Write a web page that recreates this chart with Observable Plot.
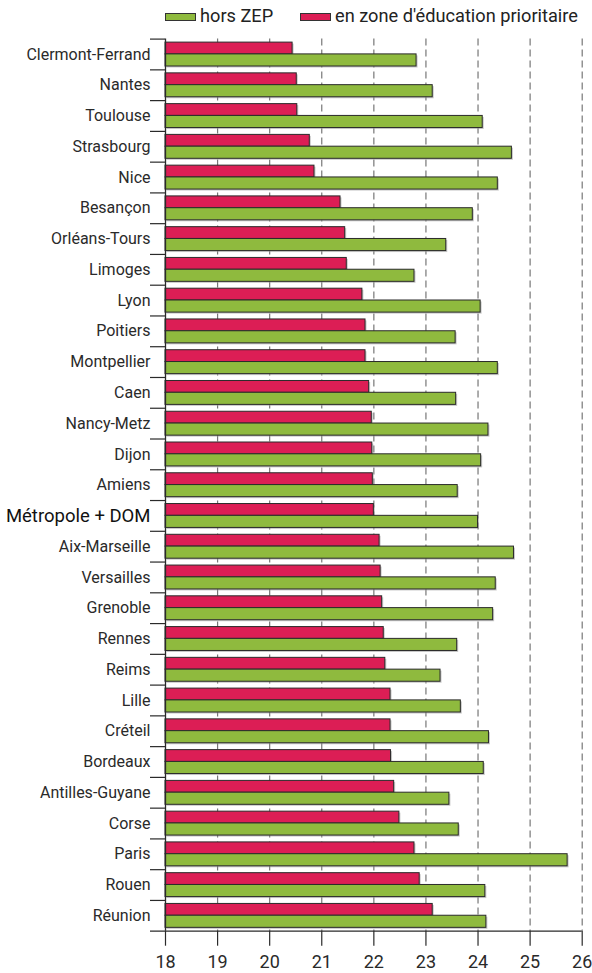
<!DOCTYPE html>
<html>
<head>
<meta charset="utf-8">
<script src="https://cdn.jsdelivr.net/npm/d3@7"></script>
<script src="https://cdn.jsdelivr.net/npm/@observablehq/plot@0.6"></script>
<style>
  html, body { margin: 0; padding: 0; background: #fff; }
  body { width: 592px; height: 973px; overflow: hidden; font-family: Roboto, 'Liberation Sans', sans-serif; }
  #legend { position: relative; height: 30px; width: 592px; color: #222; }
  #legend .sw { position: absolute; top: 13px; width: 29px; height: 6px; border: 1px solid #333; }
  #legend .lb { position: absolute; top: 6px; font-size: 18.2px; line-height: 20px; white-space: nowrap; }
  #chart svg { display: block; }
</style>
</head>
<body>
<div id="legend"></div>
<div id="chart"></div>
<script>
const cities = ["Clermont-Ferrand","Nantes","Toulouse","Strasbourg","Nice","Besançon","Orléans-Tours","Limoges","Lyon","Poitiers","Montpellier","Caen","Nancy-Metz","Dijon","Amiens","Métropole + DOM","Aix-Marseille","Versailles","Grenoble","Rennes","Reims","Lille","Créteil","Bordeaux","Antilles-Guyane","Corse","Paris","Rouen","Réunion"];
const zepValues = [20.44,20.52,20.53,20.77,20.86,21.36,21.45,21.48,21.78,21.84,21.84,21.91,21.96,21.97,21.98,22.00,22.11,22.13,22.16,22.19,22.22,22.32,22.32,22.33,22.39,22.49,22.78,22.88,23.13];
const horsZepValues = [22.82,23.13,24.09,24.65,24.38,23.90,23.39,22.78,24.05,23.57,24.38,23.58,24.20,24.06,23.61,24.00,24.69,24.34,24.29,23.60,23.28,23.67,24.21,24.11,23.45,23.63,25.72,24.14,24.16];
const xTicks = [18,19,20,21,22,23,24,25,26];
const gridTicks = [19,20,21,22,23,24,25,26];
const seriesNames = ["hors ZEP", "en zone d'éducation prioritaire"];
const highlight = "Métropole + DOM";

const GREEN = "#8fba3e", RED = "#dc1e55", INK = "#2a2a2a";
const xMin = xTicks[0], xMax = xTicks[xTicks.length - 1];

const rows = cities.map((c, i) => ({city: c, zep: zepValues[i], hors: horsZepValues[i]}));

// legend (HTML, above the SVG)
const legend = document.getElementById("legend");
[[GREEN, 165, 200], [RED, 300, 335]].forEach(([col, sx, tx], i) => {
  const sw = document.createElement("div");
  sw.className = "sw"; sw.style.left = sx + "px"; sw.style.background = col;
  legend.appendChild(sw);
  const lb = document.createElement("div");
  lb.className = "lb"; lb.style.left = tx + "px"; lb.textContent = seriesNames[i];
  legend.appendChild(lb);
});

const W = 592, H = 943, mt = 8.6, mb = 42.3, ml = 165, mr = 10.3;
const bw = (H - mt - mb) / cities.length;
const redTop = 3.5, split = 15.3, greenBottom = 27.4;

const chart = Plot.plot({
  width: W, height: H,
  marginTop: mt, marginBottom: mb, marginLeft: ml, marginRight: mr,
  style: {fontFamily: "Roboto, 'Liberation Sans', sans-serif", background: "#fff", color: INK},
  x: {domain: [xMin, xMax], axis: null},
  y: {domain: cities, padding: 0, round: false, axis: null},
  marks: [
    Plot.ruleX(gridTicks, {stroke: "#777", strokeWidth: 1.2, strokeDasharray: "7,4"}),
    // soft shadows
    Plot.barX(rows, {y: "city", x1: xMin, x2: "zep", fill: "#999", fillOpacity: 0.55, dx: 1.5, dy: 1.5, insetTop: redTop, insetBottom: bw - split}),
    Plot.barX(rows, {y: "city", x1: xMin, x2: "hors", fill: "#999", fillOpacity: 0.55, dx: 1.5, dy: 1.5, insetTop: split, insetBottom: bw - greenBottom}),
    Plot.barX(rows, {y: "city", x1: xMin, x2: "zep", fill: RED, stroke: INK, strokeWidth: 1, insetTop: redTop, insetBottom: bw - split}),
    Plot.barX(rows, {y: "city", x1: xMin, x2: "hors", fill: GREEN, stroke: INK, strokeWidth: 1, insetTop: split, insetBottom: bw - greenBottom}),
    // left axis line
    Plot.ruleX([xMin], {stroke: INK, strokeWidth: 1.3}),
    // group boundary ticks
    Plot.ruleY(cities, {y: d => d, dy: -bw / 2, x1: xMin, x2: xMin, insetLeft: -15, stroke: INK, strokeWidth: 1.2}),
    // bottom axis line
    Plot.ruleY([cities[cities.length - 1]], {y: d => d, dy: bw / 2, x1: xMin, x2: xMax, insetLeft: -15, stroke: INK, strokeWidth: 1.2}),
    Plot.axisX(xTicks, {anchor: "bottom", tickSize: 15, tickPadding: 9, fontSize: 18, stroke: INK, strokeWidth: 1.2, fill: INK, tickFormat: d => d}),
    Plot.text(cities, {y: d => d, frameAnchor: "left", dx: -15, textAnchor: "end",
      text: d => d, fill: d => d === highlight ? "#111" : INK,
      fontSize: d => d === highlight ? 18.5 : 16,
      fontWeight: d => d === highlight ? 500 : 400})
  ]
});
document.getElementById("chart").appendChild(chart);
</script>
</body>
</html>
